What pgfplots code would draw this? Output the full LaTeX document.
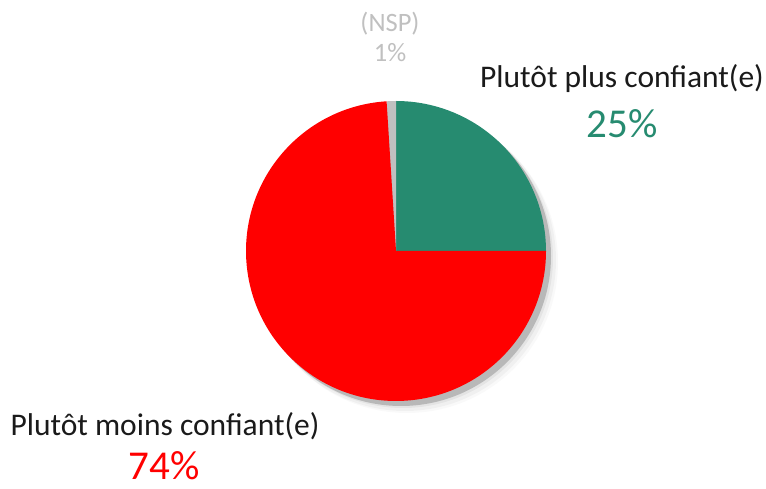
\documentclass[border=0pt]{standalone}
\usepackage{pgfplots}
\pgfplotsset{compat=1.18}
\usepackage{fontspec}
\setmainfont{Carlito}
\definecolor{cplus}{HTML}{268B70}
\definecolor{cmoins}{HTML}{FF0000}
\definecolor{cnsp}{HTML}{C0C0C0}
\definecolor{ctxt}{HTML}{1A1A1A}

% shares in percent: plus, nsp, moins (counter-clockwise from east)
\def\vplus{25}
\def\vnsp{1}
\def\vmoins{74}
\pgfmathsetmacro{\ab}{\vplus*3.6}
\pgfmathsetmacro{\ac}{(\vplus+\vnsp)*3.6}

\begin{document}
\begin{tikzpicture}
\begin{axis}[width=766pt,height=489pt,scale only axis,hide axis,
  xmin=0,xmax=766,ymin=0,ymax=489,clip=false]
\path (axis cs:0,0) rectangle (axis cs:766,489);
% shadow
\fill[black!30,opacity=0.08] (axis cs:407,227) circle[radius=151];
\fill[black!30,opacity=0.12] (axis cs:405,229) circle[radius=151];
\fill[black!30,opacity=0.2] (axis cs:403,231) circle[radius=150];
\fill[black!28] (axis cs:401,233) circle[radius=150];
% slices
\fill[cplus] (axis cs:396,238) -- ++(0:150) arc[start angle=0,end angle=\ab,radius=150] -- cycle;
\fill[cnsp] (axis cs:396,238) -- ++(\ab:150) arc[start angle=\ab,end angle=\ac,radius=150] -- cycle;
\fill[cmoins] (axis cs:396,238) -- ++(\ac:150) arc[start angle=\ac,end angle=360,radius=150] -- cycle;
% labels
\tikzset{lab/.style={anchor=base,inner sep=0pt}}
\node[lab,text=cnsp,font=\fontsize{26.5}{30}\selectfont] at (axis cs:390,457) {(NSP)};
\node[lab,text=cnsp,font=\fontsize{26.5}{30}\selectfont] at (axis cs:390,427) {\vnsp\%};
\node[lab,text=ctxt,font=\fontsize{31.5}{36}\selectfont] at (axis cs:622,401) {Plutôt plus confiant(e)};
\node[lab,text=cplus,font=\fontsize{41}{46}\selectfont] at (axis cs:622,351) {\vplus\%};
\node[lab,text=ctxt,font=\fontsize{31.5}{36}\selectfont] at (axis cs:165,53) {Plutôt moins confiant(e)};
\node[lab,text=cmoins,font=\fontsize{41}{46}\selectfont] at (axis cs:164,9) {\vmoins\%};
\end{axis}
\end{tikzpicture}
\end{document}
